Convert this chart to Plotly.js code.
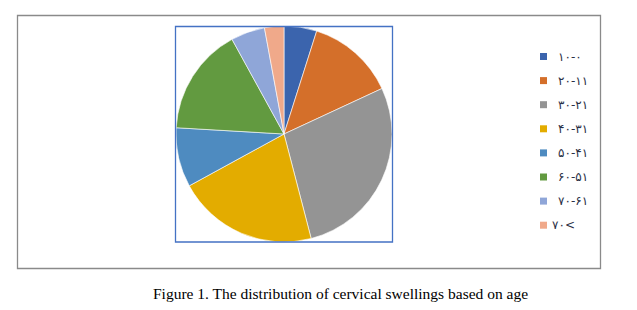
<!DOCTYPE html>
<html>
<head>
<meta charset="utf-8">
<script src="https://cdn.plot.ly/plotly-3.0.1.min.js"></script>
<style>html,body{margin:0;padding:0;background:#fff;}#chart{width:637px;height:310px;}</style>
</head>
<body>
<div id="chart"></div>
<script>
// Age groups (Persian digits, as in the source figure)
const ageGroups = ["۱۰-۰", "۲۰-۱۱", "۳۰-۲۱", "۴۰-۳۱", "۵۰-۴۱", "۶۰-۵۱", "۷۰-۶۱", "۷۰<"];
// Share of cervical swellings per age group (%), estimated from the slices
const shares = [4.9, 13.2, 27.9, 21.1, 8.9, 16.1, 5.1, 2.9];
const sliceColors = ["#3B64AD", "#D46F2A", "#949494", "#E3AC00", "#4E8BC0", "#629A40", "#8FA6D8", "#F0A98A"];
const caption = "Figure 1. The distribution of cervical swellings based on age";

const W = 637, H = 310;
const px = x => x / W;
const py = y => 1 - y / H;

const trace = {
  type: "pie",
  labels: ageGroups,
  values: shares,
  sort: false,
  direction: "clockwise",
  rotation: 0,
  textinfo: "none",
  hoverinfo: "label+percent",
  marker: {colors: sliceColors, line: {color: "#ffffff", width: 0.6}},
  domain: {x: [px(176), px(392)], y: [py(242), py(26)]},
  showlegend: false
};

const shapes = [
  {type: "rect", xref: "paper", yref: "paper", x0: px(17.5), x1: px(600.5), y0: py(268.5), y1: py(15.5),
   line: {color: "#8a8a8a", width: 1.3}},
  {type: "rect", xref: "paper", yref: "paper", x0: px(175.5), x1: px(392.5), y0: py(242), y1: py(26.5),
   line: {color: "#4472C4", width: 1.3}}
];
const annotations = [];
const legY0 = 56.5, legStep = 24.1;
ageGroups.forEach((g, i) => {
  const yc = legY0 + i * legStep;
  shapes.push({type: "rect", xref: "paper", yref: "paper",
    x0: px(540), x1: px(547), y0: py(yc + 3.5), y1: py(yc - 3.5),
    fillcolor: sliceColors[i], line: {width: 0}});
  annotations.push({xref: "paper", yref: "paper", x: px(i === 7 ? 550 : 556), y: py(yc), text: g,
    showarrow: false, xanchor: "left", yanchor: "middle",
    font: {family: "DejaVu Sans", size: 12, color: "#2a2f45"}});
});
annotations.push({xref: "paper", yref: "paper", x: px(340), y: py(293), text: caption,
  showarrow: false, xanchor: "center", yanchor: "middle",
  font: {family: "Liberation Serif", size: 15.5, color: "#000"}});

Plotly.newPlot("chart", [trace], {
  width: W, height: H,
  margin: {l: 0, r: 0, t: 0, b: 0},
  paper_bgcolor: "#ffffff",
  shapes: shapes,
  annotations: annotations
}, {displayModeBar: false, staticPlot: true});
</script>
</body>
</html>
